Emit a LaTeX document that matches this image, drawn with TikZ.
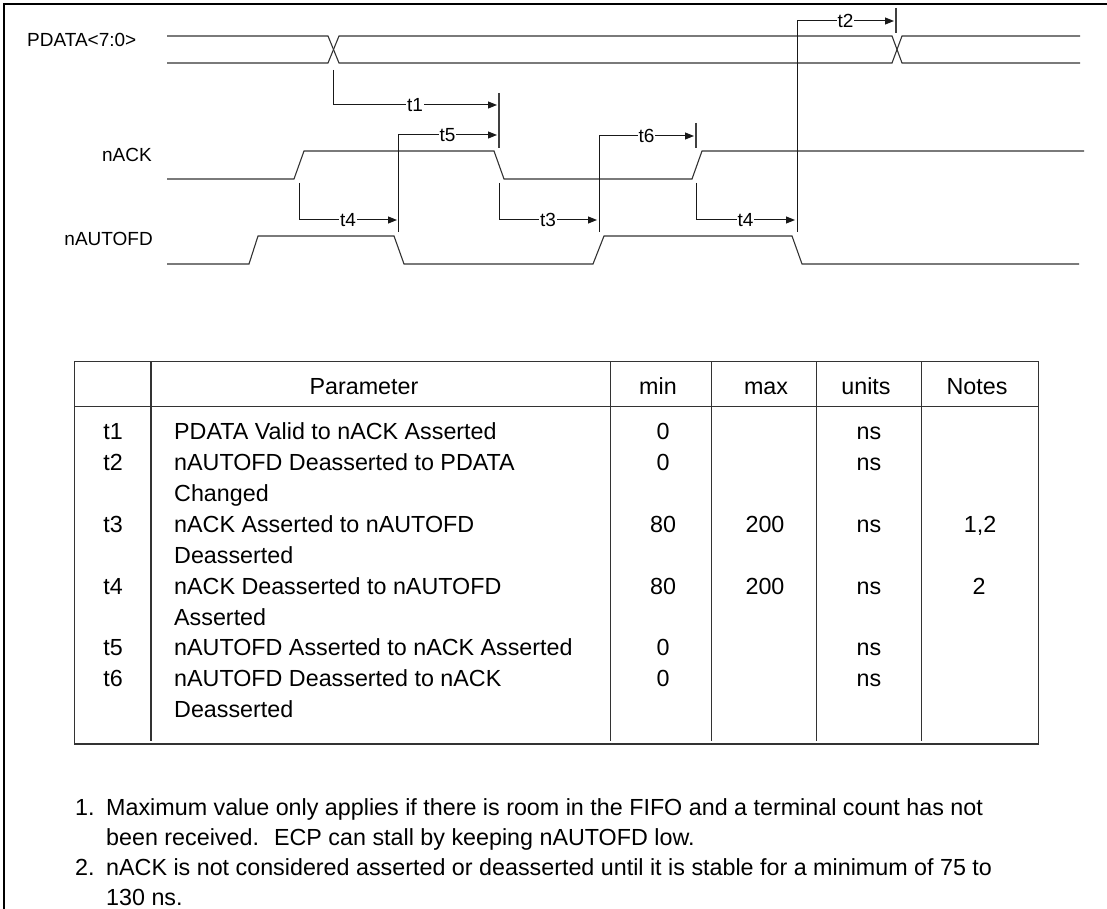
\documentclass[tikz,border=0pt]{standalone}
\usepackage{fontspec}
\setmainfont{Liberation Sans}
\usetikzlibrary{arrows.meta}
\begin{document}
\begin{tikzpicture}[x=1pt,y=-1pt,
  sig/.style={line width=1.1pt, draw=black!80, line join=miter},
  tarrow/.style={line width=1pt, draw=black!90, -{Triangle[length=9pt,width=7pt]}},
  tickmark/.style={line width=1.2pt, draw=black!75},
  tlab/.style={fill=white, inner sep=1pt, font=\fontsize{19}{19}\selectfont},
  siglab/.style={font=\fontsize{19}{19}\selectfont, inner sep=0pt},
  tab/.style={line width=1.2pt, draw=black!80},
  cell/.style={font=\fontsize{23.3}{23.3}\selectfont, inner sep=0pt},
  note/.style={font=\fontsize{23.3}{23.3}\selectfont, inner sep=0pt}]
\useasboundingbox (0,0) rectangle (1107,909);
% frame
\draw[line width=2.7pt] (4,909) -- (4,4) -- (1107,4);
% signal labels
\node[siglab, anchor=base west] (lpdata) at (27,46.8) {PDATA<7:0>};
\node[siglab, anchor=base east] (lnack) at (152,161.8) {nACK};
\node[siglab, anchor=base east] (lnauto) at (153,246) {nAUTOFD};
% signals
\draw[sig] (167,36) -- (328,36) -- (339,63) -- (892,63) -- (902,36) -- (1080,36);
\draw[sig] (167,63) -- (328,63) -- (339,36) -- (892,36) -- (902,63) -- (1080,63);
\draw[sig] (167,179) -- (294,179) -- (304,151) -- (494,151) -- (504,179) -- (692,179) -- (702,151) -- (1084,151);
\draw[sig] (167,264) -- (249,264) -- (258,236) -- (394,236) -- (404,264) -- (593,264) -- (604,236) -- (792,236) -- (802,264) -- (1079,264);
% timing points
\coordinate (a1) at (333,70);  \coordinate (e1) at (497,105);
\coordinate (a5) at (398,232); \coordinate (e5) at (497,135);
\coordinate (a4) at (299,183); \coordinate (e4) at (397,220);
\coordinate (a3) at (499,183); \coordinate (e3) at (597,220);
\coordinate (a6) at (599,232); \coordinate (e6) at (694,136);
\coordinate (b4) at (696,183); \coordinate (f4) at (795,220);
\coordinate (a2) at (797,232); \coordinate (e2) at (894,21);
% ticks
\draw[tickmark] (499,93) -- (499,148);
\draw[tickmark] (696,123) -- (696,148);
\draw[tickmark] (896,8) -- (896,33);
% arrows
\draw[tarrow] (a1) |- node[tlab, pos=0.75] {t1} (e1);
\draw[tarrow] (a5) |- node[tlab, pos=0.75] {t5} (e5);
\draw[tarrow] (a4) |- node[tlab, pos=0.75] {t4} (e4);
\draw[tarrow] (a3) |- node[tlab, pos=0.75] {t3} (e3);
\draw[tarrow] (a6) |- node[tlab, pos=0.75] {t6} (e6);
\draw[tarrow] (b4) |- node[tlab, pos=0.75] {t4} (f4);
\draw[tarrow] (a2) |- node[tlab, pos=0.75] {t2} (e2);
% table
\draw[tab] (74.3,361.7) rectangle (1038.3,744);
\draw[tab] (74.3,406.7) -- (1038.3,406.7);
\foreach \cx in {151,610.7,711.7,816.7,921.7} \draw[tab] (\cx,361.7) -- (\cx,741);
% header
\node[cell, anchor=base] (hpar) at (364,394.9) {Parameter};
\node[cell, anchor=base] (hmin) at (658,394.9) {min};
\node[cell, anchor=base] (hmax) at (766,394.9) {max};
\node[cell, anchor=base] (hunits) at (866,394.9) {units};
\node[cell, anchor=base] (hnotes) at (977,394.9) {Notes};
% rows
\node[cell, anchor=base] (r1n) at (113,439.9) {t1};
\node[cell, anchor=base west] (r1p) at (174,439.9) {PDATA Valid to nACK Asserted};
\node[cell, anchor=base] (r1m) at (663,439.9) {0};
\node[cell, anchor=base] (r1u) at (869,439.9) {ns};
\node[cell, anchor=base] (r2n) at (113,470.7) {t2};
\node[cell, anchor=base west] (r2p) at (174,470.7) {nAUTOFD Deasserted to PDATA};
\node[cell, anchor=base west] (r2q) at (174,501.6) {Changed};
\node[cell, anchor=base] (r2m) at (663,470.7) {0};
\node[cell, anchor=base] (r2u) at (869,470.7) {ns};
\node[cell, anchor=base] (r3n) at (113,532.4) {t3};
\node[cell, anchor=base west] (r3p) at (174,532.4) {nACK Asserted to nAUTOFD};
\node[cell, anchor=base west] (r3q) at (174,563.3) {Deasserted};
\node[cell, anchor=base] (r3m) at (663,532.4) {80};
\node[cell, anchor=base] (r3x) at (765,532.4) {200};
\node[cell, anchor=base] (r3u) at (869,532.4) {ns};
\node[cell, anchor=base] (r3o) at (980,532.4) {1,2};
\node[cell, anchor=base] (r4n) at (113,594.1) {t4};
\node[cell, anchor=base west] (r4p) at (174,594.1) {nACK Deasserted to nAUTOFD};
\node[cell, anchor=base west] (r4q) at (174,625.0) {Asserted};
\node[cell, anchor=base] (r4m) at (663,594.1) {80};
\node[cell, anchor=base] (r4x) at (765,594.1) {200};
\node[cell, anchor=base] (r4u) at (869,594.1) {ns};
\node[cell, anchor=base] (r4o) at (979,594.1) {2};
\node[cell, anchor=base] (r5n) at (113,655.8) {t5};
\node[cell, anchor=base west] (r5p) at (174,655.8) {nAUTOFD Asserted to nACK Asserted};
\node[cell, anchor=base] (r5m) at (663,655.8) {0};
\node[cell, anchor=base] (r5u) at (869,655.8) {ns};
\node[cell, anchor=base] (r6n) at (113,686.6) {t6};
\node[cell, anchor=base west] (r6p) at (174,686.6) {nAUTOFD Deasserted to nACK};
\node[cell, anchor=base west] (r6q) at (174,717.5) {Deasserted};
\node[cell, anchor=base] (r6m) at (663,686.6) {0};
\node[cell, anchor=base] (r6u) at (869,686.6) {ns};
% notes
\node[note, anchor=base west] (n1) at (75,815) {1.};
\node[note, anchor=base west] (n1a) at (106,815) {Maximum value only applies if there is room in the FIFO and a terminal count has not};
\node[note, anchor=base west] (n1b) at (106,845) {been received.~ ECP can stall by keeping nAUTOFD low.};
\node[note, anchor=base west] (n2) at (75,875) {2.};
\node[note, anchor=base west] (n2a) at (106,875) {nACK is not considered asserted or deasserted until it is stable for a minimum of 75 to};
\node[note, anchor=base west] (n2b) at (106,905) {130 ns.};
\end{tikzpicture}
\end{document}
